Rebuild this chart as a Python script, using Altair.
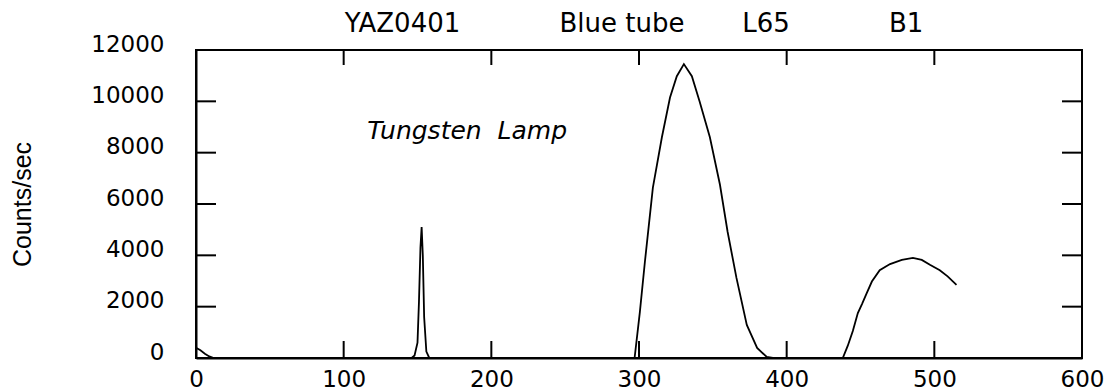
import altair as alt
import pandas as pd

# ---- data ----
wavelength = [0, 3, 6, 9, 12, 60, 120, 146, 148, 150, 151, 152, 152.8, 153.6, 154.5, 156, 158,
              200, 250, 295, 297, 300.6, 304, 309.4, 315.5, 321, 325.6, 330.4, 335.8, 341, 348,
              354.8, 360, 366, 373, 380, 386.5, 390.7, 420, 438, 441.4, 444.8, 448.2, 451, 454,
              457.7, 463, 470, 478, 485.5, 491.5, 497, 503.7, 509, 515]
counts = [400, 300, 170, 60, 0, 0, 0, 0, 100, 600, 2200, 4300, 5100, 4000, 1600, 250, 0,
          0, 0, 0, 0, 1800, 3750, 6640, 8600, 10150, 10980, 11450, 10980, 10000, 8600,
          6760, 4920, 3120, 1290, 390, 40, 0, 0, 0, 480, 1050, 1750, 2100, 2500,
          2980, 3420, 3660, 3820, 3900, 3820, 3630, 3420, 3180, 2850]

x_label_values = [0, 100, 200, 300, 400, 500, 600]
y_label_values = [0, 2000, 4000, 6000, 8000, 10000, 12000]
x_inner_ticks = [100, 200, 300, 400, 500]
y_inner_ticks = [2000, 4000, 6000, 8000, 10000]

NB = "\u00a0"
title_text = "YAZ0401" + NB * 12 + "Blue tube" + NB * 7 + "L65" + NB * 12 + "B1"
y_title = "Counts/sec"
note_text = ["Tungsten" + NB * 2 + "Lamp"]
note_x = [116]
note_y = [8550]

W, H = 886, 308
FONT = "DejaVu Sans"

df = pd.DataFrame({"x": wavelength, "y": counts})
xs = alt.Scale(domain=[0, 600], nice=False, zero=False)
ys = alt.Scale(domain=[0, 12000], nice=False)

line = alt.Chart(df).mark_line(color="black", strokeWidth=1.8).encode(
    x=alt.X("x:Q", scale=xs, axis=alt.Axis(
        values=x_label_values, title=None, ticks=False, grid=False, labelFlush=False,
        format="d", labelPadding=10, labelFontSize=23, labelFont=FONT, labelColor="black",
        domainColor="black", domainWidth=2)),
    y=alt.Y("y:Q", scale=ys, axis=alt.Axis(
        values=y_label_values, title=y_title, ticks=False, grid=False, format="d",
        labelPadding=32, labelOffset=-6, labelFontSize=23, labelFont=FONT,
        labelColor="black", domainColor="black", domainWidth=2,
        titleFont="Liberation Sans", titleFontSize=25, titleFontWeight="normal",
        titleColor="black", titleX=-174, titleY=154, titleAngle=270,
        titleAlign="center", titleBaseline="middle")),
)

tx = pd.DataFrame({"x": x_inner_ticks})
ty = pd.DataFrame({"y": y_inner_ticks})

bottom_ticks = alt.Chart(tx).mark_rule(color="black", strokeWidth=2).encode(
    x=alt.X("x:Q", scale=xs), y=alt.value(H), y2=alt.value(H - 17))
top_ticks = alt.Chart(tx).mark_rule(color="black", strokeWidth=2).encode(
    x=alt.X("x:Q", scale=xs), y=alt.value(0), y2=alt.value(15))
left_ticks = alt.Chart(ty).mark_rule(color="black", strokeWidth=2).encode(
    y=alt.Y("y:Q", scale=ys), x=alt.value(0), x2=alt.value(20))
right_ticks = alt.Chart(ty).mark_rule(color="black", strokeWidth=2).encode(
    y=alt.Y("y:Q", scale=ys), x=alt.value(W - 20), x2=alt.value(W))

note_df = pd.DataFrame({"x": note_x, "y": note_y, "t": note_text})
note = alt.Chart(note_df).mark_text(
    align="left", baseline="alphabetic", font=FONT, fontStyle="italic",
    fontSize=25, color="black").encode(
    x=alt.X("x:Q", scale=xs), y=alt.Y("y:Q", scale=ys), text="t:N")

chart = alt.layer(line, bottom_ticks, top_ticks, left_ticks, right_ticks, note).properties(
    width=W, height=H,
    title=alt.TitleParams(text=title_text, font=FONT, fontSize=26, fontWeight="normal",
                          color="black", anchor="middle", offset=0, dy=4, dx=-5),
    autosize=alt.AutoSizeParams(type="none"),
    padding={"left": 196, "top": 50, "right": 36, "bottom": 34},
    background="white",
).configure_view(stroke="black", strokeWidth=2)

chart.save("out.html", embed_options={"renderer": "svg", "actions": False})
